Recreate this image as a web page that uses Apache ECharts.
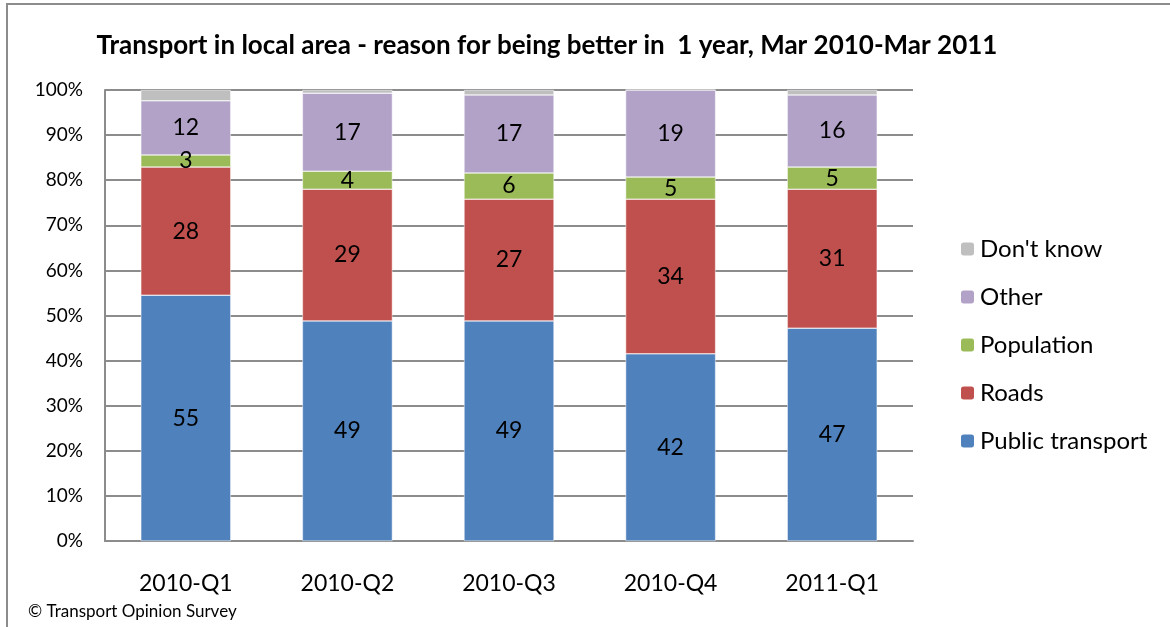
<!DOCTYPE html>
<html><head><meta charset="utf-8">
<script src="https://cdn.jsdelivr.net/npm/echarts@6/dist/echarts.min.js"></script>
<style>html,body{margin:0;padding:0;background:#fff}#c{width:1170px;height:627px}</style>
</head><body><div id="c"></div>
<script>
const categories = ['2010-Q1','2010-Q2','2010-Q3','2010-Q4','2011-Q1'];
const publicTransport = [54.5, 48.8, 48.8, 41.5, 47.2];
const roads = [28.4, 29.2, 27.0, 34.3, 30.8];
const population = [2.7, 4.0, 5.8, 4.9, 4.9];
const other = [12.0, 17.3, 17.3, 19.3, 16.0];
const dontKnow = [2.4, 0.7, 1.1, 0.0, 1.1];
const legendOrder = ["Don't know", 'Other', 'Population', 'Roads', 'Public transport'];

const FONT = 'Lato, "Open Sans", sans-serif';
function mk(name, data, color, showLabel) {
  return {
    name, type: 'bar', stack: 'all', data, barWidth: 90,
    itemStyle: { color, borderColor: '#ffffff', borderWidth: 0.5 },
    label: {
      show: showLabel, position: 'inside', color: '#000', fontSize: 23, fontFamily: FONT,
      formatter: p => Math.round(p.value)
    }
  };
}
const chart = echarts.init(document.getElementById('c'));
chart.setOption({
  animation: false,
  backgroundColor: '#fff',
  title: {
    text: 'Transport in local area - reason for being better in  1 year, Mar 2010-Mar 2011',
    left: 542, top: 28, textAlign: 'center',
    textStyle: { fontFamily: FONT, fontWeight: 'bold', fontSize: 26, color: '#000' }
  },
  graphic: [
    { type: 'rect', shape: { x: 7, y: 4, width: 1200, height: 700 }, style: { fill: 'none', stroke: '#8c8c8c', lineWidth: 2 }, silent: true },
    { type: 'text', left: 28, top: 603, style: { text: '© Transport Opinion Survey', font: '17px ' + FONT, fill: '#000' } }
  ],
  legend: {
    orient: 'vertical', left: 954, top: 232, itemGap: 24, itemWidth: 15, itemHeight: 15,
    data: legendOrder,
    textStyle: { fontFamily: FONT, fontSize: 24, color: '#000' }
  },
  grid: { left: 105, right: 257, top: 90, bottom: 86 },
  xAxis: {
    type: 'category', data: categories,
    axisLine: { lineStyle: { color: '#8c8c8c', width: 2 } },
    axisTick: { show: false },
    axisLabel: { fontFamily: FONT, fontSize: 23, color: '#000', margin: 31 }
  },
  yAxis: {
    type: 'value', min: 0, max: 100, interval: 10,
    axisLine: { show: true, lineStyle: { color: '#8c8c8c', width: 2 } },
    axisTick: { show: false },
    splitLine: { lineStyle: { color: '#8c8c8c', width: 2 } },
    axisLabel: { fontFamily: FONT, fontSize: 19, color: '#000', margin: 22, formatter: '{value}%' }
  },
  series: [
    mk('Public transport', publicTransport, '#4F81BD', true),
    mk('Roads', roads, '#C0504D', true),
    mk('Population', population, '#9BBB59', true),
    mk('Other', other, '#B2A2C7', true),
    mk("Don't know", dontKnow, '#BFBFBF', false)
  ]
});
</script></body></html>
